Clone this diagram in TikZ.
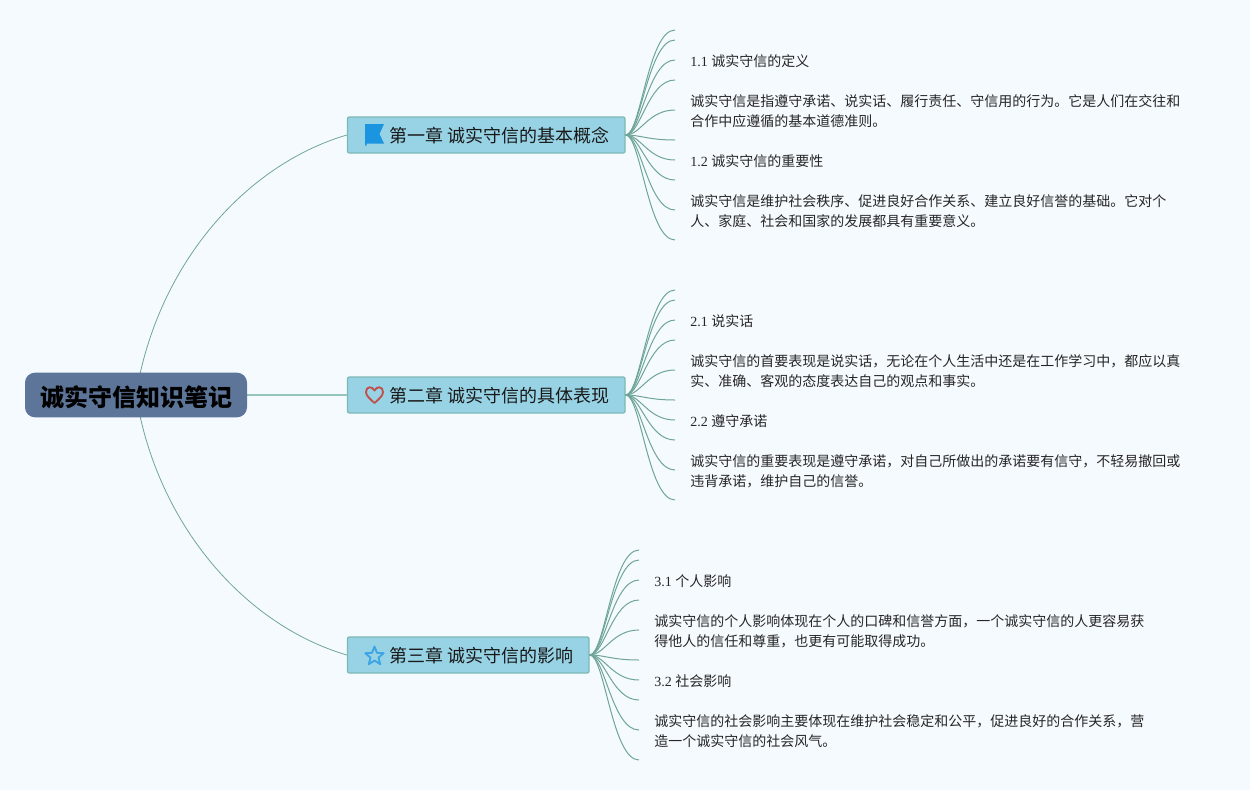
\documentclass[tikz,border=0pt]{standalone}
\usepackage{fontspec}
\setmainfont{Liberation Serif}
\newfontfamily\cjk{Noto Sans CJK SC}
\usetikzlibrary{calc}
\definecolor{bgc}{HTML}{F5FAFF}
\definecolor{linec}{HTML}{6FA598}
\definecolor{linelight}{HTML}{95C5BB}
\definecolor{chapfill}{HTML}{97D3E5}
\definecolor{chapline}{HTML}{7DB9B4}
\definecolor{rootfill}{HTML}{5C7599}
\definecolor{iconblue}{HTML}{1B95E0}
\definecolor{iconred}{HTML}{C0504D}
\tikzset{
  x=0.75pt,y=-0.75pt,
  rootbox/.style={fill=rootfill,rounded corners=7.5pt,minimum width=166.5pt,minimum height=33.5pt,inner sep=0pt},
  roottext/.style={inner sep=0pt,font=\cjk\bfseries\fontsize{18pt}{22pt}\selectfont,text=black},
  chapbox/.style={draw=chapline,fill=chapfill,rounded corners=1.5pt,line width=1pt,minimum height=27pt,inner sep=0pt,anchor=west},
  chaptext/.style={anchor=west,inner sep=0pt,font=\cjk\fontsize{13.5pt}{16pt}\selectfont,text=black!90},
  leaf/.style={anchor=west,inner sep=0pt,align=left,font=\cjk\fontsize{10.5pt}{15pt}\selectfont,text=black!85},
  mainlink/.style={draw=linec,line width=0.6pt},
  straightlink/.style={draw=linelight,line width=1.3pt},
  twig/.style={draw=linec,line width=0.75pt},
}
\newcommand{\sernum}[1]{{\rmfamily #1}}
\begin{document}
\begin{tikzpicture}
\useasboundingbox (0,0) rectangle (1250,790);
\fill[bgc] (0,0) rectangle (1250,790);

% chapter boxes
\node[chapbox,minimum width=208.2pt] (ch1) at (346.8,135) {};
\node[chapbox,minimum width=208.2pt] (ch2) at (346.8,395) {};
\node[chapbox,minimum width=181.2pt] (ch3) at (346.8,655) {};
\coordinate (rc) at (136,395);

% main links
\draw[mainlink] (rc) .. controls (157,265) and (245,165) .. (ch1.west);
\draw[straightlink] (rc) -- (ch2.west);
\draw[mainlink] (rc) .. controls (157,525) and (245,625) .. (ch3.west);

% twigs
\foreach \i/\y in {1/30,2/40,3/60,4/80,5/110,6/140,7/160,8/180,9/210,10/240}{
  \coordinate (a\i) at (675,\y);
  \draw[twig] (ch1.east) .. controls ($(ch1.east)+(15,0)$) and ($(a\i)+(-27,0)$) .. (a\i);
}
\foreach \i/\y in {1/290,2/300,3/320,4/340,5/370,6/400,7/420,8/440,9/470,10/500}{
  \coordinate (b\i) at (675,\y);
  \draw[twig] (ch2.east) .. controls ($(ch2.east)+(15,0)$) and ($(b\i)+(-27,0)$) .. (b\i);
}
\foreach \i/\y in {1/550,2/560,3/580,4/600,5/630,6/660,7/680,8/700,9/730,10/760}{
  \coordinate (c\i) at (639,\y);
  \draw[twig] (ch3.east) .. controls ($(ch3.east)+(15,0)$) and ($(c\i)+(-27,0)$) .. (c\i);
}

% root
\node[rootbox] (root) at (136,395) {};
\node[roottext] (roottitle) at (136.5,397) {诚实守信知识笔记};

% chapter titles
\node[chaptext] (t1) at (389,136) {第一章 诚实守信的基本概念};
\node[chaptext] (t2) at (389,396) {第二章 诚实守信的具体表现};
\node[chaptext] (t3) at (389,656) {第三章 诚实守信的影响};

% icons
\fill[iconblue] (365,124) -- (384,124) -- (379.5,134) -- (384,143.5) -- (366.5,143.5) -- (366.5,145.5) -- (365,145.5) -- cycle;
\draw[iconred,line width=1.4pt,line join=round] (374.5,403) .. controls (369.5,398.5) and (366,395.5) .. (366,392) .. controls (366,386) and (372.5,386) .. (374.5,390.5) .. controls (376.5,386) and (383,386) .. (383,392) .. controls (383,395.5) and (379.5,398.5) .. (374.5,403) -- cycle;
\draw[iconblue!85!white,line width=1.4pt,line join=round] (374.5,646.5) -- (377,652.8) -- (383.7,653.2) -- (378.5,657.6) -- (380.2,664.2) -- (374.5,660.5) -- (368.8,664.2) -- (370.5,657.6) -- (365.3,653.2) -- (372,652.8) -- cycle;

% leaves
\node[leaf] (l11) at (690,61) {\sernum{1.1 }诚实守信的定义};
\node[leaf] (l12) at (690,111.5) {诚实守信是指遵守承诺、说实话、履行责任、守信用的行为。它是人们在交往和\\合作中应遵循的基本道德准则。};
\node[leaf] (l13) at (690,161) {\sernum{1.2 }诚实守信的重要性};
\node[leaf] (l14) at (690,211.5) {诚实守信是维护社会秩序、促进良好合作关系、建立良好信誉的基础。它对个\\人、家庭、社会和国家的发展都具有重要意义。};

\node[leaf] (l21) at (690,321) {\sernum{2.1 }说实话};
\node[leaf] (l22) at (690,371.5) {诚实守信的首要表现是说实话，无论在个人生活中还是在工作学习中，都应以真\\实、准确、客观的态度表达自己的观点和事实。};
\node[leaf] (l23) at (690,421) {\sernum{2.2 }遵守承诺};
\node[leaf] (l24) at (690,471.5) {诚实守信的重要表现是遵守承诺，对自己所做出的承诺要有信守，不轻易撤回或\\违背承诺，维护自己的信誉。};

\node[leaf] (l31) at (654,581) {\sernum{3.1 }个人影响};
\node[leaf] (l32) at (654,631.5) {诚实守信的个人影响体现在个人的口碑和信誉方面，一个诚实守信的人更容易获\\得他人的信任和尊重，也更有可能取得成功。};
\node[leaf] (l33) at (654,681) {\sernum{3.2 }社会影响};
\node[leaf] (l34) at (654,731.5) {诚实守信的社会影响主要体现在维护社会稳定和公平，促进良好的合作关系，营\\造一个诚实守信的社会风气。};
\end{tikzpicture}
\end{document}
